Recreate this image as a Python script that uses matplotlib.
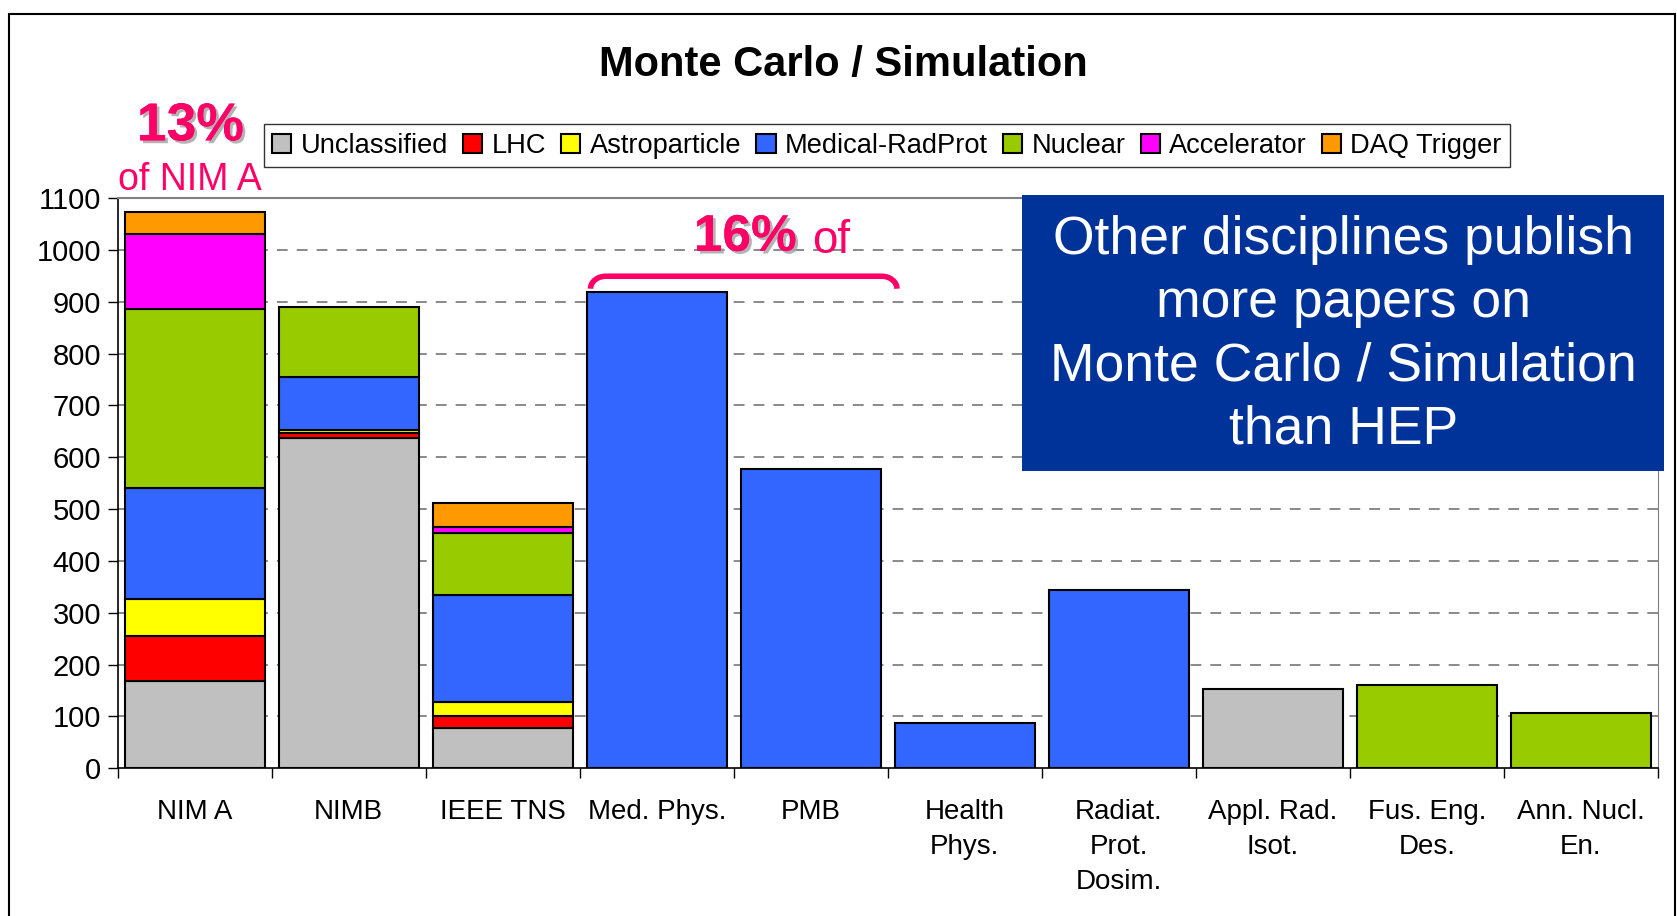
import numpy as np
import matplotlib.pyplot as plt
import matplotlib.patheffects as pe
from matplotlib.patches import Rectangle

plt.rcParams['font.family'] = ['Liberation Sans', 'DejaVu Sans']

journals = ['NIM A', 'NIMB', 'IEEE TNS', 'Med. Phys.', 'PMB', 'Health\nPhys.',
            'Radiat.\nProt.\nDosim.', 'Appl. Rad.\nIsot.', 'Fus. Eng.\nDes.',
            'Ann. Nucl.\nEn.']

# stacked segment heights, one list per category of paper
unclassified = [169, 638, 77, 0, 0, 0, 0, 153, 0, 0]
lhc = [86, 8, 23, 0, 0, 0, 0, 0, 0, 0]
astroparticle = [72, 7, 27, 0, 0, 0, 0, 0, 0, 0]
medical = [213, 102, 208, 918, 578, 87, 343, 0, 0, 0]
nuclear = [346, 135, 119, 0, 0, 0, 0, 0, 161, 107]
accelerator = [144, 0, 12, 0, 0, 0, 0, 0, 0, 0]
daq = [43, 0, 46, 0, 0, 0, 0, 0, 0, 0]

series_names = ['Unclassified', 'LHC', 'Astroparticle', 'Medical-RadProt',
                'Nuclear', 'Accelerator', 'DAQ Trigger']
series = [unclassified, lhc, astroparticle, medical, nuclear, accelerator, daq]
colors = ['#C0C0C0', '#FF0000', '#FFFF00', '#3366FF', '#99CC00', '#FF00FF', '#FF9900']

pink = '#FF0066'

fig = plt.figure(figsize=(16.77, 9.16), dpi=100)
ax = fig.add_axes([0.0702, 0.1612, 0.9183, 0.6227])

x = np.arange(len(journals))
bottom = np.zeros(len(journals))
handles = []
for name, vals, col in zip(series_names, series, colors):
    vals = np.array(vals, dtype=float)
    lw = [1.5 if v > 0 else 0 for v in vals]
    b = ax.bar(x, vals, width=0.91, bottom=bottom, color=col,
               edgecolor='black', linewidth=lw, label=name, zorder=3)
    handles.append(b)
    bottom += vals

ax.set_xlim(-0.5, len(journals) - 0.5)
ax.set_ylim(0, 1100)
ax.set_yticks(np.arange(0, 1101, 100))
ax.tick_params(axis='y', labelsize=21, length=7, direction='out', width=1, pad=5)

# category boundaries get the tick marks, labels sit in the middle
ax.set_xticks(np.arange(-0.5, len(journals), 1.0))
ax.set_xticklabels([])
ax.set_xticks(x, minor=True)
ax.set_xticklabels(journals, minor=True, fontsize=20, linespacing=1.45)
ax.tick_params(axis='x', which='major', length=7, width=1)
ax.tick_params(axis='x', which='minor', length=0, pad=22)

for yv in range(100, 1100, 100):
    ax.axhline(yv, color='#808080', linestyle=(0, (6, 5)), linewidth=1.3, zorder=1)

ax.spines['left'].set_color('black')
ax.spines['bottom'].set_color('black')
ax.spines['left'].set_linewidth(1.2)
ax.spines['bottom'].set_linewidth(1.2)
ax.spines['top'].set_color('#808080')
ax.spines['right'].set_color('#808080')
ax.spines['top'].set_linewidth(1.5)

fig.text(0.503, 0.929, 'Monte Carlo / Simulation', ha='center', va='center',
         fontsize=30, fontweight='bold')

leg = fig.legend(handles=handles, loc='center', bbox_to_anchor=(0.529, 0.841),
                 ncol=7, fontsize=19.6, frameon=True, fancybox=False,
                 handlelength=0.7, handleheight=0.7, handletextpad=0.35,
                 columnspacing=0.55, borderpad=0.3, borderaxespad=0)
leg.get_frame().set_edgecolor('black')
leg.get_frame().set_linewidth(1.0)

shadow = [pe.withSimplePatchShadow(offset=(2, -2), shadow_rgbFace='#A0A0A0', alpha=0.8),
          pe.Normal()]
fig.text(0.1135, 0.862, '13%', ha='center', va='center', fontsize=38.5,
         fontweight='bold', color=pink, path_effects=shadow)
fig.text(0.1135, 0.804, 'of NIM A', ha='center', va='center', fontsize=27,
         color=pink)
fig.text(0.475, 0.741, '16%', ha='right', va='center', fontsize=37,
         fontweight='bold', color=pink, path_effects=shadow)
fig.text(0.484, 0.737, 'of', ha='left', va='center', fontsize=33, color=pink)

# curly bracket over Med. Phys. and PMB
xl, xr, yb, yt = 2.57, 4.56, 925, 949
rx, ry = 0.1, yt - yb
t = np.linspace(np.pi, np.pi / 2, 20)
left_arc = np.c_[xl + rx + rx * np.cos(t), yb + ry * np.sin(t)]
t2 = np.linspace(np.pi / 2, 0, 20)
right_arc = np.c_[xr - rx + rx * np.cos(t2), yb + ry * np.sin(t2)]
pts = np.vstack([left_arc, right_arc])
ax.plot(pts[:, 0], pts[:, 1], color=pink, linewidth=4, solid_capstyle='butt',
        clip_on=False, zorder=4)

box = Rectangle((0.6097, 0.486), 0.3827, 0.3014, transform=fig.transFigure,
                facecolor='#003399', edgecolor='none', zorder=5)
fig.patches.append(box)
fig.text(0.801, 0.6345, 'Other disciplines publish\nmore papers on\n'
         'Monte Carlo / Simulation\nthan HEP', ha='center', va='center',
         fontsize=38.5, color='white', linespacing=1.34, zorder=6)

border = Rectangle((0.0054, -0.01), 0.9935, 0.9944, transform=fig.transFigure,
                   facecolor='none', edgecolor='black', linewidth=1.5)
fig.patches.append(border)

fig.savefig('out.png', dpi=100)
